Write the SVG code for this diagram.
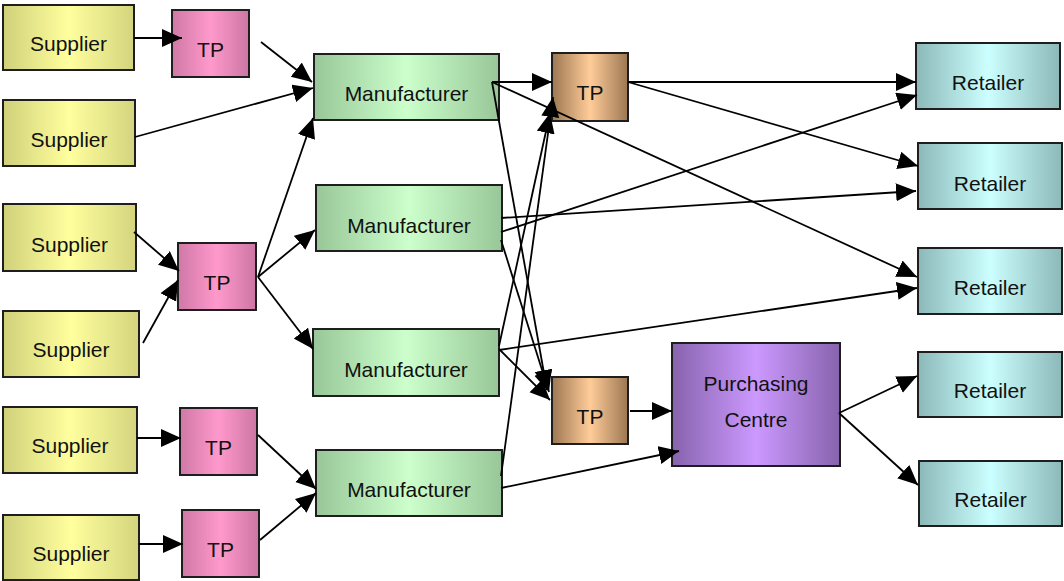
<svg xmlns="http://www.w3.org/2000/svg" width="1064" height="581" viewBox="0 0 1064 581">
<style>
  .box { stroke: #1e1e1e; stroke-width: 2; }
  .lbl { font-family: "Liberation Sans", Arial, sans-serif; font-size: 21px; fill: #111; text-anchor: middle; }
  .con { stroke: #000; stroke-width: 1.8; fill: none; marker-end: url(#arr); }
</style>
<defs>
  <marker id="arr" markerUnits="userSpaceOnUse" markerWidth="22" markerHeight="20" refX="20" refY="9" orient="auto">
    <path d="M0,0 L20,9 L0,18 z" fill="#000"/>
  </marker>
  <linearGradient id="gSup" x1="0" y1="0" x2="1" y2="0">
    <stop offset="0" stop-color="#d0d07a"/><stop offset="0.5" stop-color="#ffff9e"/><stop offset="1" stop-color="#d4d47e"/>
  </linearGradient>
  <linearGradient id="gTPp" x1="0" y1="0" x2="1" y2="0">
    <stop offset="0" stop-color="#cf78a6"/><stop offset="0.5" stop-color="#ff99cc"/><stop offset="1" stop-color="#cc76a3"/>
  </linearGradient>
  <linearGradient id="gMan" x1="0" y1="0" x2="1" y2="0">
    <stop offset="0" stop-color="#98c698"/><stop offset="0.5" stop-color="#ccffcc"/><stop offset="1" stop-color="#98c698"/>
  </linearGradient>
  <linearGradient id="gTPo" x1="0" y1="0" x2="1" y2="0">
    <stop offset="0" stop-color="#9c7752"/><stop offset="0.5" stop-color="#ffcc99"/><stop offset="1" stop-color="#9c7752"/>
  </linearGradient>
  <linearGradient id="gPC" x1="0" y1="0" x2="1" y2="0">
    <stop offset="0" stop-color="#8763ad"/><stop offset="0.5" stop-color="#cc99ff"/><stop offset="1" stop-color="#8763ad"/>
  </linearGradient>
  <linearGradient id="gRet" x1="0" y1="0" x2="1" y2="0">
    <stop offset="0" stop-color="#8cb8b8"/><stop offset="0.5" stop-color="#ccffff"/><stop offset="1" stop-color="#8cb8b8"/>
  </linearGradient>
</defs>

<g id="nodes">
  <g id="supplier1"><rect class="box" x="3" y="5" width="131" height="65" fill="url(#gSup)"/><text class="lbl" x="68.5" y="51">Supplier</text></g>
  <g id="supplier2"><rect class="box" x="3" y="100" width="132" height="66" fill="url(#gSup)"/><text class="lbl" x="69" y="147">Supplier</text></g>
  <g id="supplier3"><rect class="box" x="3" y="204" width="133" height="67" fill="url(#gSup)"/><text class="lbl" x="69.5" y="252">Supplier</text></g>
  <g id="supplier4"><rect class="box" x="3" y="311" width="136" height="66" fill="url(#gSup)"/><text class="lbl" x="71" y="357">Supplier</text></g>
  <g id="supplier5"><rect class="box" x="3" y="407" width="134" height="66" fill="url(#gSup)"/><text class="lbl" x="70" y="453">Supplier</text></g>
  <g id="supplier6"><rect class="box" x="3" y="515" width="136" height="65" fill="url(#gSup)"/><text class="lbl" x="71" y="561">Supplier</text></g>

  <g id="tp1"><rect class="box" x="172" y="10" width="77" height="67" fill="url(#gTPp)"/><text class="lbl" x="210.5" y="57">TP</text></g>
  <g id="tp2"><rect class="box" x="178" y="243" width="78" height="67" fill="url(#gTPp)"/><text class="lbl" x="217" y="290">TP</text></g>
  <g id="tp3"><rect class="box" x="180" y="408" width="77" height="67" fill="url(#gTPp)"/><text class="lbl" x="218.5" y="455">TP</text></g>
  <g id="tp4"><rect class="box" x="182" y="510" width="77" height="67" fill="url(#gTPp)"/><text class="lbl" x="220.5" y="557">TP</text></g>

  <g id="manufacturer1"><rect class="box" x="314" y="54" width="185" height="66" fill="url(#gMan)"/><text class="lbl" x="406.5" y="101">Manufacturer</text></g>
  <g id="manufacturer2"><rect class="box" x="316" y="185" width="186" height="66" fill="url(#gMan)"/><text class="lbl" x="409" y="233">Manufacturer</text></g>
  <g id="manufacturer3"><rect class="box" x="313" y="329" width="186" height="67" fill="url(#gMan)"/><text class="lbl" x="406" y="377">Manufacturer</text></g>
  <g id="manufacturer4"><rect class="box" x="316" y="450" width="186" height="66" fill="url(#gMan)"/><text class="lbl" x="409" y="497">Manufacturer</text></g>

  <g id="tp5"><rect class="box" x="552" y="53" width="76" height="68" fill="url(#gTPo)"/><text class="lbl" x="590" y="100">TP</text></g>
  <g id="tp6"><rect class="box" x="552" y="377" width="76" height="67" fill="url(#gTPo)"/><text class="lbl" x="590" y="424">TP</text></g>

  <g id="purchasing"><rect class="box" x="672" y="343" width="168" height="123" fill="url(#gPC)"/><text class="lbl" x="756" y="391">Purchasing</text><text class="lbl" x="756" y="427">Centre</text></g>

  <g id="retailer1"><rect class="box" x="916" y="43" width="144" height="66" fill="url(#gRet)"/><text class="lbl" x="988" y="90">Retailer</text></g>
  <g id="retailer2"><rect class="box" x="918" y="143" width="144" height="66" fill="url(#gRet)"/><text class="lbl" x="990" y="191">Retailer</text></g>
  <g id="retailer3"><rect class="box" x="918" y="248" width="144" height="66" fill="url(#gRet)"/><text class="lbl" x="990" y="295">Retailer</text></g>
  <g id="retailer4"><rect class="box" x="918" y="352" width="144" height="65" fill="url(#gRet)"/><text class="lbl" x="990" y="398">Retailer</text></g>
  <g id="retailer5"><rect class="box" x="919" y="461" width="143" height="65" fill="url(#gRet)"/><text class="lbl" x="990.5" y="507">Retailer</text></g>
</g>

<g id="connectors">
  <path class="con" d="M134,38 L182,38"/>
  <path class="con" d="M261,42 L312,82"/>
  <path class="con" d="M135,137 L313,88"/>
  <path class="con" d="M134,232 L179,271"/>
  <path class="con" d="M143,343 L178,280"/>
  <path class="con" d="M258,277 L313,118"/>
  <path class="con" d="M258,277 L315,230"/>
  <path class="con" d="M258,277 L313,349"/>
  <path class="con" d="M137,438 L181,438"/>
  <path class="con" d="M139,544 L183,544"/>
  <path class="con" d="M258,435 L316,489"/>
  <path class="con" d="M260,540 L316,493"/>
  <path class="con" d="M492,82 L552,82"/>
  <path class="con" d="M492,82 L547,390"/>
  <path class="con" d="M492,82 L917,277"/>
  <path class="con" d="M501,232 L917,95"/>
  <path class="con" d="M501,218 L916,191"/>
  <path class="con" d="M501,240 L549,392"/>
  <path class="con" d="M499,346 L550,113"/>
  <path class="con" d="M499,349 L550,400"/>
  <path class="con" d="M499,350 L917,288"/>
  <path class="con" d="M501,476 L553,97"/>
  <path class="con" d="M501,488 L679,451"/>
  <path class="con" d="M628,82 L916,82"/>
  <path class="con" d="M628,82 L918,166"/>
  <path class="con" d="M630,411 L672,411"/>
  <path class="con" d="M839,413 L917,376"/>
  <path class="con" d="M839,413 L918,485"/>
</g>
</svg>
